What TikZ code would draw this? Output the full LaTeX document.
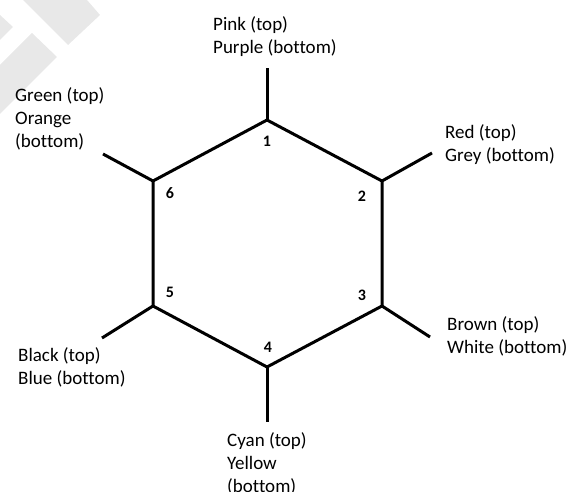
\documentclass[tikz,border=0pt]{standalone}
\usepackage{fontspec}
\setmainfont{Carlito}[Ligatures=NoCommon]
\tikzset{
  hexline/.style={line width=3pt,line join=miter},
  hexnum/.style={font=\fontsize{16}{16}\selectfont\bfseries,inner sep=0pt},
  pairlabel/.style={anchor=north west,align=left,inner sep=0pt,font=\fontsize{19}{23}\selectfont},
  wmark/.style={fill=black!9,draw=none}
}

\begin{document}
\begin{tikzpicture}[x=1pt,y=1pt]
  \useasboundingbox (0,0) rectangle (579,491);
  % faint watermark bands, top left
  \path[wmark] (23,491)--(87,491)--(100,476)--(68,446)--cycle;
  \path[wmark] (0,476)--(13,464)--(0,451)--cycle;
  \path[wmark] (32,458)--(57,434)--(0,377)--(0,426)--cycle;

  % ring corners and spoke ends
  \coordinate (v1) at (267,371);
  \coordinate (v2) at (382,310);
  \coordinate (v3) at (382,185);
  \coordinate (v4) at (267,124);
  \coordinate (v5) at (153,185);
  \coordinate (v6) at (153,310);
  \coordinate (e1) at (267,423);
  \coordinate (e2) at (432,338);
  \coordinate (e3) at (430,154);
  \coordinate (e4) at (267,69);
  \coordinate (e5) at (102,153);
  \coordinate (e6) at (103,337);

  \draw[hexline] (v1)--(v2)--(v3)--(v4)--(v5)--(v6)--cycle;
  \foreach \i in {1,...,6}
    \draw[hexline] (v\i)--(e\i);

  \node[hexnum] (n1) at (267,350) {1};
  \node[hexnum] (n2) at (362,295) {2};
  \node[hexnum] (n3) at (362,196) {3};
  \node[hexnum] (n4) at (268,144) {4};
  \node[hexnum] (n5) at (170,199) {5};
  \node[hexnum] (n6) at (170,298) {6};

  \node[pairlabel] (t1) at (213,475) {Pink (top)\\Purple (bottom)};
  \node[pairlabel] (t2) at (445,367) {Red (top)\\Grey (bottom)};
  \node[pairlabel] (t3) at (447,175) {Brown (top)\\White (bottom)};
  \node[pairlabel] (t4) at (227,59) {Cyan (top)\\Yellow\\(bottom)};
  \node[pairlabel] (t5) at (18,144) {Black (top)\\Blue (bottom)};
  \node[pairlabel] (t6) at (15,404) {Green (top)\\Orange\\(bottom)};
  %\draw[red] (t1.north west) rectangle (t1.south east);
\end{tikzpicture}
\end{document}
